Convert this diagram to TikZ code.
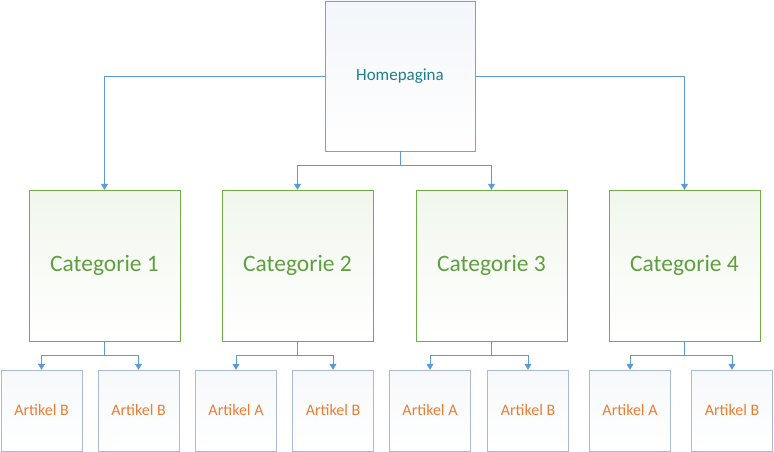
\documentclass[tikz,border=0pt]{standalone}
\usepackage{fontspec}
\setmainfont{Carlito}
\usetikzlibrary{arrows.meta,positioning}
\definecolor{linkblue}{HTML}{5B9BD5}
\definecolor{homeline}{HTML}{7F9FCF}
\definecolor{hometext}{HTML}{1F7F8F}
\definecolor{catline}{HTML}{70AD47}
\definecolor{cattext}{HTML}{5F9F3F}
\definecolor{artline}{HTML}{A9BAD6}
\definecolor{arttext}{HTML}{ED7D31}
\tikzset{
  home/.style={draw=homeline,top color=homeline!10,bottom color=white,minimum width=150pt,minimum height=150pt,text=hometext,font=\fontsize{17}{20}\selectfont},
  cat/.style={draw=catline,top color=catline!10,bottom color=white,minimum width=151pt,minimum height=151pt,text=cattext,font=\fontsize{23.5}{26}\selectfont},
  art/.style={draw=artline,top color=artline!10,bottom color=white,minimum width=81pt,minimum height=81pt,text=arttext,font=\fontsize{16}{18}\selectfont},
  link/.style={draw=linkblue,->,>={Triangle[length=6pt,width=7pt]}}
}
\begin{document}
\begin{tikzpicture}[x=1pt,y=-1pt]
  \useasboundingbox (0,0) rectangle (774,452);
  \node[home] (home) at (400,76) {Homepagina};
  \node[cat] (c1) at (104.5,265.5) {Categorie 1};
  \node[cat] (c2) at (297.5,265.5) {Categorie 2};
  \node[cat] (c3) at (491.5,265.5) {Categorie 3};
  \node[cat] (c4) at (684.5,265.5) {Categorie 4};
  % artikels
  \node[art] (a11) at (41.5,410.5) {Artikel B};
  \node[art] (a12) at (138.5,410.5) {Artikel B};
  \node[art] (a21) at (236,410.5) {Artikel A};
  \node[art] (a22) at (333,410.5) {Artikel B};
  \node[art] (a31) at (430,410.5) {Artikel A};
  \node[art] (a32) at (528,410.5) {Artikel B};
  \node[art] (a41) at (630,410.5) {Artikel A};
  \node[art] (a42) at (732,410.5) {Artikel B};
  % verbindingen
  \draw[link] (home.west) -| (c1.north);
  \draw[link] (home.east) -| (c4.north);
  \draw[link] (home.south) -- ++(0,14) -| (c2.north);
  \draw[link] (home.south) -- ++(0,14) -| (c3.north);
  \foreach \c/\l/\r in {c1/a11/a12,c2/a21/a22,c3/a31/a32,c4/a41/a42}{
    \draw[link] (\c.south) -- ++(0,14) -| (\l.north);
    \draw[link] (\c.south) -- ++(0,14) -| (\r.north);
  }
\end{tikzpicture}
\end{document}
